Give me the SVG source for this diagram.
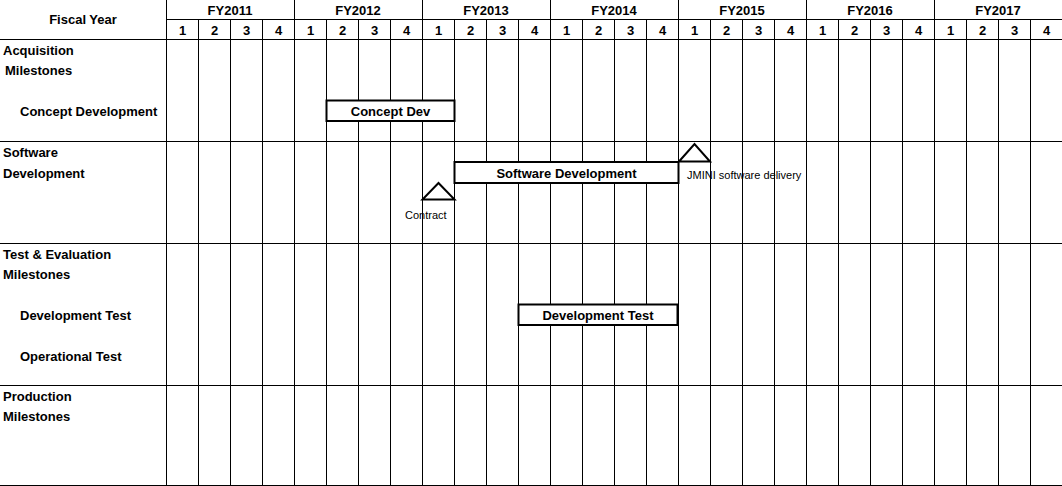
<svg xmlns="http://www.w3.org/2000/svg" width="1062" height="486" viewBox="0 0 1062 486">
<style>
text{font-family:"Liberation Sans",Arial,sans-serif;fill:#000}
.b{font-weight:bold;font-size:13px}
.c{text-anchor:middle}
.s{font-size:11px}
.g line{stroke:#000;stroke-width:1}
.bar{fill:#fff;stroke:#000;stroke-width:2}
.ms{fill:#fff;stroke:#000;stroke-width:2}
</style>
<rect width="1062" height="486" fill="#fff"/>
<g id="grid" class="g">
<line x1="166" y1="19.5" x2="1062" y2="19.5"/>
<line x1="0" y1="39.5" x2="1062" y2="39.5"/>
<line x1="0" y1="141.5" x2="1062" y2="141.5"/>
<line x1="0" y1="243.5" x2="1062" y2="243.5"/>
<line x1="0" y1="385.5" x2="1062" y2="385.5"/>
<line x1="0" y1="485.5" x2="1062" y2="485.5"/>
<line x1="166.5" y1="0" x2="166.5" y2="486"/>
<line x1="294.5" y1="0" x2="294.5" y2="486"/>
<line x1="422.5" y1="0" x2="422.5" y2="486"/>
<line x1="550.5" y1="0" x2="550.5" y2="486"/>
<line x1="678.5" y1="0" x2="678.5" y2="486"/>
<line x1="806.5" y1="0" x2="806.5" y2="486"/>
<line x1="934.5" y1="0" x2="934.5" y2="486"/>
<line x1="198.5" y1="19.5" x2="198.5" y2="486"/>
<line x1="230.5" y1="19.5" x2="230.5" y2="486"/>
<line x1="262.5" y1="19.5" x2="262.5" y2="486"/>
<line x1="326.5" y1="19.5" x2="326.5" y2="486"/>
<line x1="358.5" y1="19.5" x2="358.5" y2="486"/>
<line x1="390.5" y1="19.5" x2="390.5" y2="486"/>
<line x1="454.5" y1="19.5" x2="454.5" y2="486"/>
<line x1="486.5" y1="19.5" x2="486.5" y2="486"/>
<line x1="518.5" y1="19.5" x2="518.5" y2="486"/>
<line x1="582.5" y1="19.5" x2="582.5" y2="486"/>
<line x1="614.5" y1="19.5" x2="614.5" y2="486"/>
<line x1="646.5" y1="19.5" x2="646.5" y2="486"/>
<line x1="710.5" y1="19.5" x2="710.5" y2="486"/>
<line x1="742.5" y1="19.5" x2="742.5" y2="486"/>
<line x1="774.5" y1="19.5" x2="774.5" y2="486"/>
<line x1="838.5" y1="19.5" x2="838.5" y2="486"/>
<line x1="870.5" y1="19.5" x2="870.5" y2="486"/>
<line x1="902.5" y1="19.5" x2="902.5" y2="486"/>
<line x1="966.5" y1="19.5" x2="966.5" y2="486"/>
<line x1="998.5" y1="19.5" x2="998.5" y2="486"/>
<line x1="1030.5" y1="19.5" x2="1030.5" y2="486"/>
</g>
<g id="header">
<text class="b c" x="83" y="24">Fiscal Year</text>
<text class="b c" x="230" y="15">FY2011</text>
<text class="b c" x="358" y="15">FY2012</text>
<text class="b c" x="486" y="15">FY2013</text>
<text class="b c" x="614" y="15">FY2014</text>
<text class="b c" x="742" y="15">FY2015</text>
<text class="b c" x="870" y="15">FY2016</text>
<text class="b c" x="998" y="15">FY2017</text>
<text class="b c" x="182.5" y="35">1</text><text class="b c" x="214.5" y="35">2</text><text class="b c" x="246.5" y="35">3</text><text class="b c" x="278.5" y="35">4</text>
<text class="b c" x="310.5" y="35">1</text><text class="b c" x="342.5" y="35">2</text><text class="b c" x="374.5" y="35">3</text><text class="b c" x="406.5" y="35">4</text>
<text class="b c" x="438.5" y="35">1</text><text class="b c" x="470.5" y="35">2</text><text class="b c" x="502.5" y="35">3</text><text class="b c" x="534.5" y="35">4</text>
<text class="b c" x="566.5" y="35">1</text><text class="b c" x="598.5" y="35">2</text><text class="b c" x="630.5" y="35">3</text><text class="b c" x="662.5" y="35">4</text>
<text class="b c" x="694.5" y="35">1</text><text class="b c" x="726.5" y="35">2</text><text class="b c" x="758.5" y="35">3</text><text class="b c" x="790.5" y="35">4</text>
<text class="b c" x="822.5" y="35">1</text><text class="b c" x="854.5" y="35">2</text><text class="b c" x="886.5" y="35">3</text><text class="b c" x="918.5" y="35">4</text>
<text class="b c" x="950.5" y="35">1</text><text class="b c" x="982.5" y="35">2</text><text class="b c" x="1014.5" y="35">3</text><text class="b c" x="1046.5" y="35">4</text>
</g>
<g id="row-labels">
<text class="b" x="3" y="55">Acquisition</text>
<text class="b" x="5" y="75">Milestones</text>
<text class="b" x="20" y="116">Concept Development</text>
<text class="b" x="3" y="157">Software</text>
<text class="b" x="3" y="178">Development</text>
<text class="b" x="3" y="259">Test &amp; Evaluation</text>
<text class="b" x="3" y="279">Milestones</text>
<text class="b" x="20" y="320">Development Test</text>
<text class="b" x="20" y="361">Operational Test</text>
<text class="b" x="3" y="401">Production</text>
<text class="b" x="3" y="421">Milestones</text>
</g>
<g id="concept-dev">
<rect class="bar" x="326.5" y="100.5" width="128" height="20.5"/>
<text class="b c" x="390.5" y="116">Concept Dev</text>
</g>
<g id="software-dev">
<rect class="bar" x="454.5" y="162" width="224" height="21"/>
<text class="b c" x="566.5" y="178">Software Development</text>
</g>
<g id="contract">
<polygon class="ms" points="422.5,199.5 438.5,183 454.5,199.5"/>
<text class="s" x="405" y="219">Contract</text>
</g>
<g id="jmini-delivery">
<polygon class="ms" points="679,161.5 694.5,144 710,161.5"/>
<text class="s" x="687" y="179">JMINI software delivery</text>
</g>
<g id="development-test">
<rect class="bar" x="518.5" y="304.5" width="159" height="20.5"/>
<text class="b c" x="598" y="320">Development Test</text>
</g>
</svg>
